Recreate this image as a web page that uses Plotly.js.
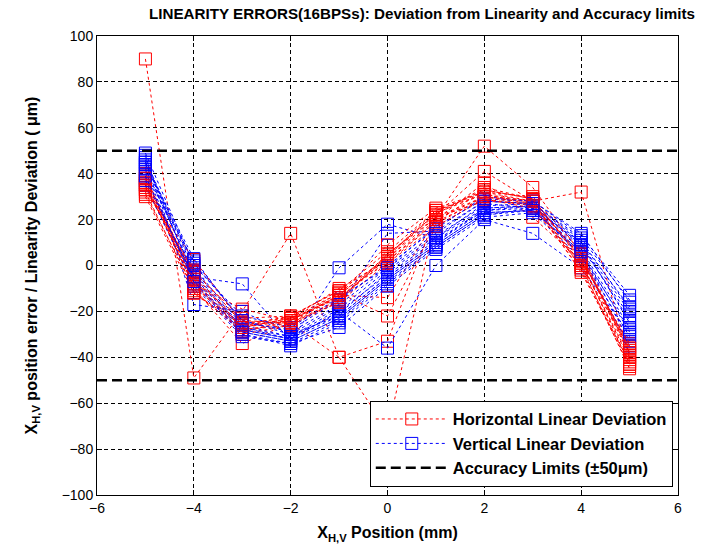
<!DOCTYPE html>
<html>
<head>
<meta charset="utf-8">
<script src="https://cdn.plot.ly/plotly-3.0.1.min.js"></script>
<style>
html,body{margin:0;padding:0;background:#fff;}
#chart{width:716px;height:547px;}
</style>
</head>
<body>
<div id="chart"></div>
<script>
// x positions (mm)
const xPos = [-5, -4, -3, -2, -1, 0, 1, 2, 3, 4, 5];

// Horizontal linear deviation (um), one array per BPM
const H01 = [90, -49, -20, 14, -40, -72, 21, 52, 34, 5, -38];
const H02 = [31, -10, -34, -25, -40, -33, 22, 41, 28, 32, -40];
const H03 = [35, -8, -19, -24, -13, -14, 20, 36, 21, 2, -43];
const H04 = [38, -5, -27, -23, -12, -22, 18, 30, 27, 0, -36];
const H05 = [33, 2.6, -25, -25, -15, 4, 23, 33, 29, 3, -35];
const H06 = [40, -12, -28, -26, -16, 1, 19, 29, 26, -2, -44];
const H07 = [36, -9, -26, -22, -11, 6, 24, 31, 28, 4, -39];
const H08 = [32, -11, -29, -24, -14, 3, 21, 28, 27, 1, -41];
const H09 = [37, -7, -24, -25, -13, 9, 25, 32, 30, 6, -37];
const H10 = [34, -4, -27, -23, -10, 2, 20, 30, 28, -3, -42];
const H11 = [39, -6, -30, -26, -15, 5, 22, 34, 29, 2, -34];
const H12 = [30, -12, -26, -24, -12, 1, 17, 29, 25, 0, -45];
const H13 = [35, -3, -23, -22, -11, 3, 23, 31, 27, 5, -38];
const H14 = [36, -9, -28, -25, -16, 5, 21, 30, 26, 1, -40];
const H15 = [33, -2, -25, -23, -14, 2, 19, 33, 29, 3, -36];
const H16 = [38, -8, -27, -24, -13, 4, 24, 32, 28, -1, -43];

// Vertical linear deviation (um), one array per BPM
const V01 = [48, -17, -20, -30, -22, -5, 10, 25, 26, 9, -20];
const V02 = [45, -5, -8, -33, -1, 18, 12, 27, 25, 10, -25];
const V03 = [42, -3, -28, -32, -20, -36, 0, 20, 14, -1, -30];
const V04 = [40, 2, -24, -30, -18, 14, 15, 28, 27, 12, -15];
const V05 = [47, -7, -30, -35, -25, -8, 8, 22, 24, 6, -33];
const V06 = [44, 3, -25, -28, -15, 0, 16, 30, 28, 13, -13];
const V07 = [35, -9, -31, -34, -27, -9, 7, 21, 23, 3, -35];
const V08 = [43, -4, -27, -32, -20, -4, 11, 24, 26, 8, -22];
const V09 = [46, -1, -26, -31, -19, -2, 13, 26, 27, 10, -18];
const V10 = [38, -6, -29, -33, -23, -6, 9, 23, 24, 5, -28];
const V11 = [49, 0, -22, -27, -14, -1, 17, 29, 28, 14, -16];
const V12 = [41, -8, -30, -34, -24, -7, 8, 22, 25, 4, -31];
const V13 = [45, -2, -27, -31, -21, -3, 12, 25, 26, 9, -24];
const V14 = [37, -5, -28, -32, -22, -5, 10, 24, 25, 7, -27];
const V15 = [44, 1, -24, -29, -17, -1, 14, 28, 27, 11, -19];
const V16 = [39, -7, -29, -33, -23, -6, 9, 23, 24, 6, -29];

// Accuracy limits
const limitX = [-6, 6];
const limitUpper = [50, 50];
const limitLower = [-50, -50];

const hSeries = [H01,H02,H03,H04,H05,H06,H07,H08,H09,H10,H11,H12,H13,H14,H15,H16];
const vSeries = [V01,V02,V03,V04,V05,V06,V07,V08,V09,V10,V11,V12,V13,V14,V15,V16];

const traces = [];
const mk = (color) => ({symbol: 'square-open', size: 12, color: color, line: {width: 1, color: color}});
for (let i = 0; i < hSeries.length; i++) {
  traces.push({
    x: xPos, y: hSeries[i], type: 'scatter', mode: 'lines+markers',
    line: {color: '#ff0000', width: 1, dash: '3px,3px'},
    marker: mk('#ff0000'),
    name: 'Horizontal Linear Deviation', legendgroup: 'h', showlegend: i === 0
  });
  traces.push({
    x: xPos, y: vSeries[i], type: 'scatter', mode: 'lines+markers',
    line: {color: '#0000ff', width: 1, dash: '3px,3px'},
    marker: mk('#0000ff'),
    name: 'Vertical Linear Deviation', legendgroup: 'v', showlegend: i === 0
  });
}
traces.push({
  x: limitX, y: limitUpper, type: 'scatter', mode: 'lines',
  line: {color: '#000', width: 2.5, dash: '10px,5px'},
  name: 'Accuracy Limits (±50μm)', legendgroup: 'a', showlegend: true
});
traces.push({
  x: limitX, y: limitLower, type: 'scatter', mode: 'lines',
  line: {color: '#000', width: 2.5, dash: '10px,5px'},
  name: 'Accuracy Limits (±50μm)', legendgroup: 'a', showlegend: false
});

const font = 'Liberation Sans, Arial, sans-serif';
const layout = {
  width: 716, height: 547,
  margin: {l: 97, r: 38, t: 36, b: 52},
  paper_bgcolor: '#fff', plot_bgcolor: '#fff',
  showlegend: true,
  title: {
    text: '<b>LINEARITY ERRORS(16BPSs): Deviation from Linearity and Accuracy limits</b>',
    font: {family: font, size: 15.2, color: '#000'},
    x: 422 / 716, xref: 'container', xanchor: 'center', y: 0.975, yanchor: 'middle'
  },
  xaxis: {
    range: [-6, 6], tickvals: [-6, -4, -2, 0, 2, 4, 6],
    showline: true, linecolor: '#000', linewidth: 1, mirror: 'ticks',
    ticks: 'inside', ticklen: 5, tickcolor: '#000',
    showgrid: true, gridcolor: '#000', gridwidth: 1, griddash: '4px,3px',
    zeroline: false,
    tickfont: {family: font, size: 14, color: '#000'},
    title: {text: '<b>X<sub>H,V</sub> Position (mm)</b>', font: {family: font, size: 16, color: '#000'}, standoff: 12}
  },
  yaxis: {
    range: [-100, 100], tickvals: [-100,-80,-60,-40,-20,0,20,40,60,80,100],
    showline: true, linecolor: '#000', linewidth: 1, mirror: 'ticks',
    ticks: 'inside', ticklen: 5, tickcolor: '#000',
    showgrid: true, gridcolor: '#000', gridwidth: 1, griddash: '4px,3px',
    zeroline: false,
    tickfont: {family: font, size: 14, color: '#000'},
    title: {text: '<b>X<sub>H,V</sub> position error / Linearity Deviation ( μm)</b>', font: {family: font, size: 16, color: '#000'}, standoff: 20}
  },
  legend: {
    x: 0.991, y: 0.018, xanchor: 'right', yanchor: 'bottom',
    bgcolor: '#fff', bordercolor: '#000', borderwidth: 1,
    font: {family: font, size: 16.5, color: '#000', weight: 'bold'},
    itemwidth: 72, tracegroupgap: 0
  }
};

Plotly.newPlot('chart', traces, layout, {displayModeBar: false, staticPlot: true});
</script>
</body>
</html>
